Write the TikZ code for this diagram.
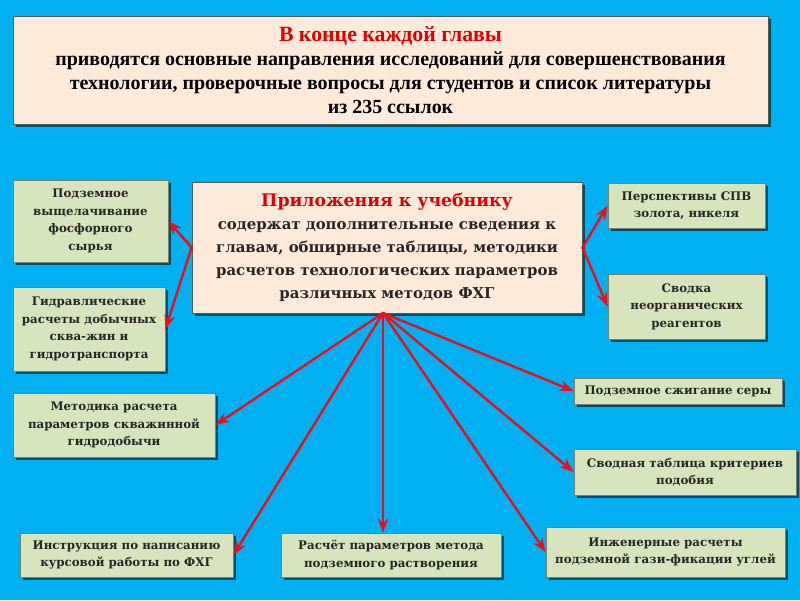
\documentclass[tikz,border=0pt]{standalone}
\usepackage{fontspec}
\setmainfont{Liberation Serif}
\newfontfamily\boxfont{DejaVu Serif}
\usetikzlibrary{arrows.meta,shadows}

\definecolor{fon}{RGB}{0,176,240}
\definecolor{peach}{RGB}{253,234,218}
\definecolor{olive}{RGB}{215,228,189}
\definecolor{rim}{RGB}{120,130,110}
\definecolor{arrowred}{RGB}{232,16,32}
\definecolor{titlered}{RGB}{224,0,0}

\begin{document}
\begin{tikzpicture}[
    x=0.025cm,
    y=-0.025cm,
    line cap=round,
    line join=round,
    mainbox/.style={
        draw=rim!70!black,
        fill=peach,
        line width=0.6pt,
        align=center,
        inner sep=2pt,
        drop shadow={shadow xshift=2pt,shadow yshift=-2pt,
                     fill=black,opacity=0.55}
    },
    leaf/.style={
        draw=rim,
        fill=olive,
        line width=0.6pt,
        align=center,
        inner sep=2pt,
        font=\boxfont\bfseries\fontsize{8.4}{12.4}\selectfont,
        text=black!85,
        drop shadow={shadow xshift=2pt,shadow yshift=-2pt,
                     fill=black,opacity=0.55}
    },
    link/.style={
        draw=arrowred,
        line width=1.7pt,
        -{Stealth[length=10pt,width=7.5pt]}
    }
]

% -------------------------------------------------
% Фон слайда
% -------------------------------------------------

\fill[fon] (0,0) rectangle (800,600);

% -------------------------------------------------
% Верхний блок
% -------------------------------------------------

\node[mainbox, minimum width=755*0.025cm, minimum height=108*0.025cm,
      font=\bfseries\fontsize{14.2}{17}\selectfont]
    (top) at (390.5,70)
    {{\color{titlered}\fontsize{15.5}{17}\selectfont В конце каждой главы}\\
     приводятся основные направления исследований для совершенствования\\
     технологии, проверочные вопросы для студентов и список литературы\\
     из 235 ссылок};

% -------------------------------------------------
% Центральный блок
% -------------------------------------------------

\node[mainbox, minimum width=390*0.025cm, minimum height=131*0.025cm,
      font=\boxfont\bfseries\fontsize{10.6}{16.3}\selectfont, text=black!85]
    (main) at (387,247.5)
    {{\color{titlered}\fontsize{12.3}{16.3}\selectfont Приложения к учебнику}\\
     содержат дополнительные сведения к\\
     главам, обширные таблицы, методики\\
     расчетов технологических параметров\\
     различных методов ФХГ};

% -------------------------------------------------
% Приложения слева
% -------------------------------------------------

\node[leaf, minimum width=155*0.025cm, minimum height=82*0.025cm]
    (fosf) at (90.5,221)
    {Подземное\\ выщелачивание\\ фосфорного\\ сырья};

\node[leaf, minimum width=152*0.025cm, minimum height=84*0.025cm]
    (gidr) at (89,329)
    {Гидравлические\\ расчеты добычных\\ сква-жин и\\ гидротранспорта};

\node[leaf, minimum width=202*0.025cm, minimum height=64*0.025cm]
    (skv) at (114,425)
    {Методика расчета\\ параметров скважинной\\ гидродобычи};

% -------------------------------------------------
% Приложения снизу
% -------------------------------------------------

\node[leaf, minimum width=213*0.025cm, minimum height=44*0.025cm]
    (kurs) at (126.5,555)
    {Инструкция по написанию\\ курсовой работы по ФХГ};

\node[leaf, minimum width=220*0.025cm, minimum height=44*0.025cm]
    (rastv) at (391,555)
    {Расчёт параметров метода\\ подземного растворения};

\node[leaf, minimum width=239*0.025cm, minimum height=50*0.025cm]
    (gazif) at (665.5,552)
    {Инженерные расчеты\\ подземной гази-фикации углей};

% -------------------------------------------------
% Приложения справа
% -------------------------------------------------

\node[leaf, minimum width=157*0.025cm, minimum height=45*0.025cm]
    (spv) at (686.5,205.5)
    {Перспективы СПВ\\ золота, никеля};

\node[leaf, minimum width=157*0.025cm, minimum height=65*0.025cm]
    (reag) at (686.5,306.5)
    {Сводка\\ неорганических\\ реагентов};

\node[leaf, minimum width=208*0.025cm, minimum height=26*0.025cm]
    (sera) at (678,391)
    {Подземное сжигание серы};

\node[leaf, minimum width=222*0.025cm, minimum height=46*0.025cm]
    (podob) at (685,472)
    {Сводная таблица критериев\\ подобия};

% -------------------------------------------------
% Стрелки
% -------------------------------------------------

\coordinate (B) at (383,313);   % нижняя точка ветвления

\draw[link] (main.west) -- (fosf.east);
\draw[link] (main.west) -- (gidr.east);
\draw[link] (main.east) -- (spv.west);
\draw[link] (main.east) -- (reag.west);

\draw[link] (B) -- (skv.east);
\draw[link] (B) -- (kurs.east);
\draw[link] (B) -- (B |- rastv.north);
\draw[link] (B) -- (sera.west);
\draw[link] (B) -- (podob.west);
\draw[link] (B) -- (gazif.west);

\end{tikzpicture}
\end{document}
